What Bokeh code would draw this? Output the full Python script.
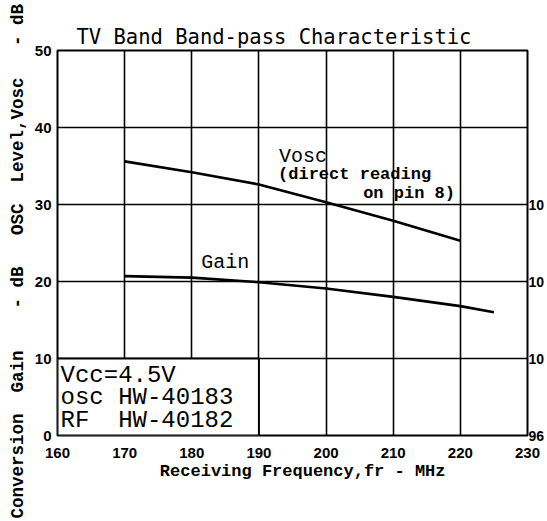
from bokeh.plotting import figure
from bokeh.models import Label, BoxAnnotation, FixedTicker, ColumnDataSource, LinearAxis, Title
from bokeh.embed import file_html
from bokeh.resources import INLINE

# ---- data ----
freq_vosc = [170, 180, 190, 200, 210, 220]
vosc = [35.6, 34.2, 32.6, 30.3, 27.9, 25.3]
freq_gain = [170, 180, 190, 200, 210, 220, 225]
gain = [20.7, 20.5, 19.9, 19.1, 18.0, 16.8, 16.0]
x_ticks = [160, 170, 180, 190, 200, 210, 220, 230]
y_ticks = [0, 10, 20, 30, 40, 50]
right_ticks = [30, 20, 10, 0]
right_labels = ["10", "10", "10", "96"]
NB = "\u00a0"
cond_lines = ["Vcc=4.5V", "osc HW-40183", "RF" + NB + NB + "HW-40182"]
title_text = "TV Band Band-pass Characteristic"
x_label = NB * 2 + "Receiving Frequency,fr - MHz"
y_label = ("Conversion" + NB * 2 + "Gain" + NB * 4 + "-" + NB + "dB" + NB * 3
           + "OSC" + NB * 2 + "Level,Vosc" + NB * 3 + "-" + NB + "dB")

MONO = "Liberation Mono"
SANS = "Liberation Sans"

p = figure(width=547, height=521, x_range=(160, 230), y_range=(0, 50),
           output_backend="svg", toolbar_location=None,
           min_border_left=57, min_border_right=17,
           min_border_top=50, min_border_bottom=86)
p.background_fill_color = "white"
p.border_fill_color = "white"
p.outline_line_color = "black"
p.outline_line_width = 2

p.title.text = title_text
p.title.align = "left"
p.title.offset = 19
p.title.text_font = "DejaVu Sans Mono"
p.title.text_font_size = "20.5px"
p.title.text_font_style = "normal"
p.title.text_color = "black"
p.title.standoff = 4

right_axis = LinearAxis(ticker=FixedTicker(ticks=right_ticks),
                        major_label_overrides={t: s for t, s in zip(right_ticks, right_labels)})
p.add_layout(right_axis, "right")

for ax in (p.xaxis[0], p.yaxis[0], right_axis):
    ax.major_tick_out = 0
    ax.major_tick_in = 0
    ax.minor_tick_out = 0
    ax.minor_tick_in = 0
    ax.axis_line_color = None
    ax.major_label_text_font = SANS
    ax.major_label_text_font_style = "bold"
    ax.major_label_text_font_size = "15px"
    ax.major_label_text_color = "black"
    ax.axis_label_text_font = MONO
    ax.axis_label_text_font_style = "bold"
    ax.axis_label_text_color = "black"

right_axis.major_label_text_font_size = "14px"
right_axis.major_label_standoff = 1

p.xaxis[0].ticker = FixedTicker(ticks=x_ticks)
p.yaxis[0].ticker = FixedTicker(ticks=y_ticks)
p.xaxis[0].major_label_standoff = 12
p.yaxis[0].major_label_standoff = 6

p.xaxis[0].axis_label = x_label
p.xaxis[0].axis_label_text_font_size = "17px"
p.xaxis[0].axis_label_standoff = 1

ytitle = Title(text=y_label, align="left", offset=-83,
               text_font=MONO, text_font_size="17.5px", text_font_style="bold",
               text_color="black", standoff=8)
p.add_layout(ytitle, "left")

p.xgrid.ticker = FixedTicker(ticks=x_ticks)
p.ygrid.ticker = FixedTicker(ticks=y_ticks)
for g in (p.xgrid[0], p.ygrid[0]):
    g.grid_line_color = "black"
    g.grid_line_width = 1.6

src_v = ColumnDataSource(dict(x=freq_vosc, y=vosc))
src_g = ColumnDataSource(dict(x=freq_gain, y=gain))
p.line("x", "y", source=src_v, line_color="black", line_width=2.6)
p.line("x", "y", source=src_g, line_color="black", line_width=2.6)

# condition box
box = BoxAnnotation(left=160, right=190, bottom=0, top=10,
                    fill_color="white", fill_alpha=1.0,
                    line_color="black", line_alpha=1.0, line_width=2)
p.add_layout(box)

def lab(x, y, text, size, font=MONO, style="normal", align="left",
        baseline="middle"):
    p.add_layout(Label(x=x, y=y, text=text, text_font=font,
                       text_font_size=size, text_font_style=style,
                       text_color="black", text_align=align,
                       text_baseline=baseline))

for i, t in enumerate(cond_lines):
    lab(160.45, 7.8 - i * 2.9, t, "24px")

lab(185.0, 22.5, "Gain", "20px", align="center")
lab(193.0, 36.2, "Vosc", "20px")
lab(192.85, 33.9, "(direct reading", "17px", style="bold")
lab(219.2, 31.4, "on pin 8)", "17px", style="bold", align="right")

open("out.html", "w").write(file_html(p, INLINE))
